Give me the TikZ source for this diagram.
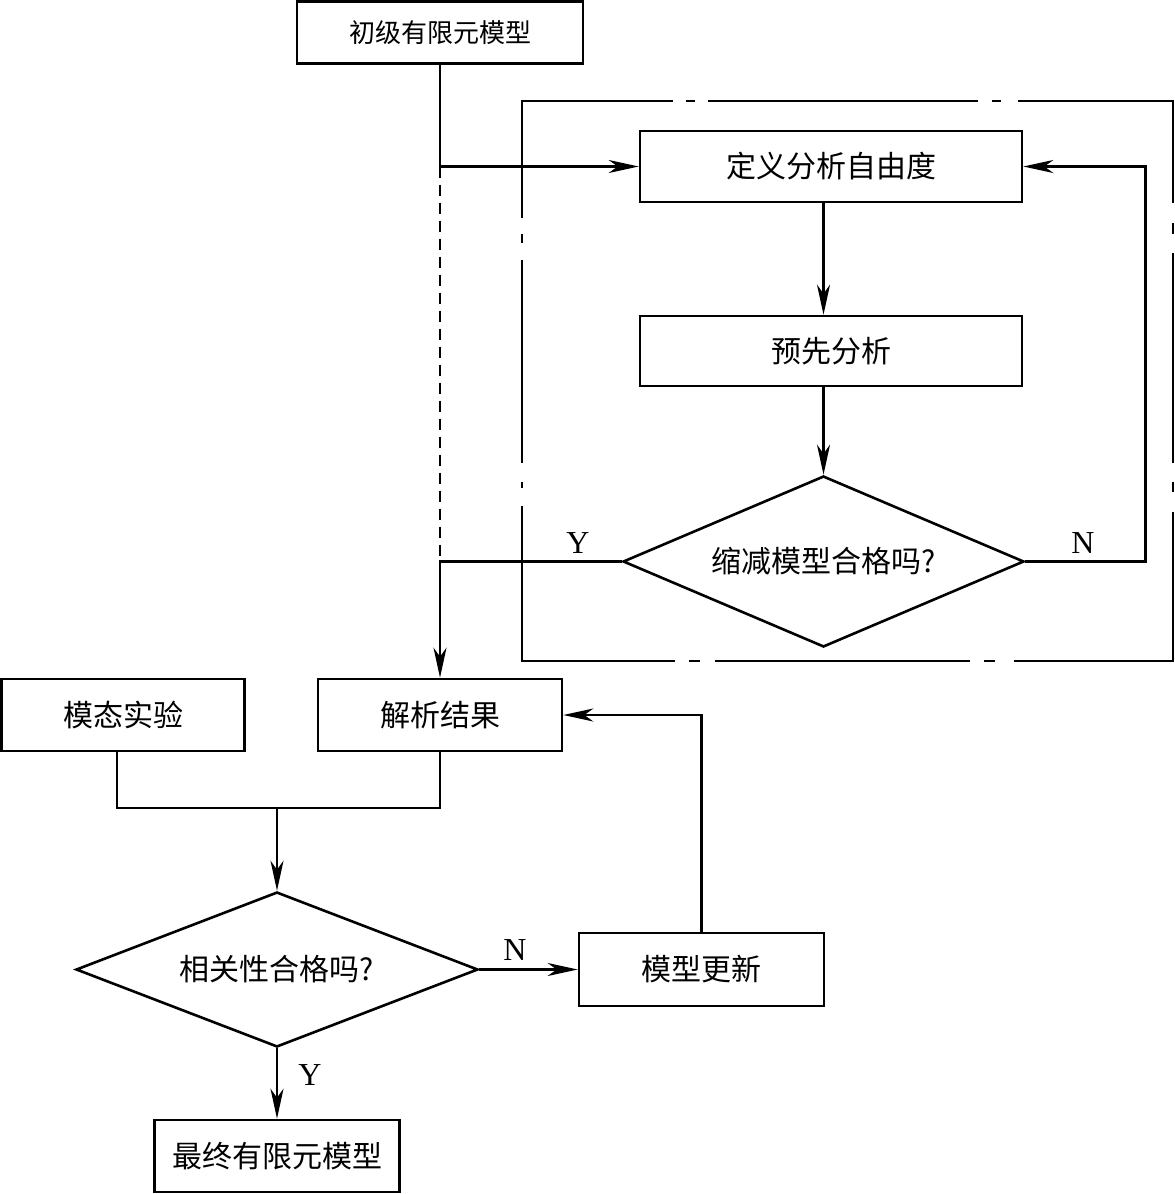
\documentclass[tikz,border=0pt]{standalone}
\usepackage{fontspec}
\setmainfont{Liberation Serif}
\newfontfamily\cjk{Noto Sans CJK SC}
\usetikzlibrary{shapes.geometric,arrows.meta}
\begin{document}
\begin{tikzpicture}[x=1pt,y=-1pt,
  every path/.style={line width=2.6pt},
  boxnode/.style={draw,line width=2.6pt,rectangle,inner sep=0pt,font=\cjk\fontsize{30pt}{36pt}\selectfont},
  dianode/.style={draw,line width=2.6pt,diamond,inner sep=0pt,font=\cjk\fontsize{30pt}{36pt}\selectfont},
  arr/.style={-{Stealth[length=30pt,width=13pt,inset=9pt]}},
  frameline/.style={line width=2.6pt,line cap=butt},
  dashline/.style={line width=2.6pt,dash pattern=on 11pt off 7pt},
  yn/.style={font=\fontsize{32pt}{36pt}\selectfont,inner sep=0pt}]
\useasboundingbox (0,0) rectangle (1175,1194);
% nodes
\node[boxnode,minimum width=286pt,minimum height=62pt,font=\cjk\fontsize{26pt}{30pt}\selectfont] (init) at (440,32.5) {初级有限元模型};
\node[boxnode,minimum width=382pt,minimum height=71pt] (def) at (831,166.5) {定义分析自由度};
\node[boxnode,minimum width=382pt,minimum height=70pt] (pre) at (831,351) {预先分析};
\node[dianode,minimum width=401pt,minimum height=171pt,aspect=2.345] (d1) at (823.5,561.5) {缩减模型合格吗?};
\node[boxnode,minimum width=244pt,minimum height=72pt] (jiexi) at (440,715) {解析结果};
\node[boxnode,minimum width=243pt,minimum height=72pt] (motai) at (123,715) {模态实验};
\node[dianode,minimum width=402pt,minimum height=155pt,aspect=2.59] (d2) at (277,969.5) {相关性合格吗?};
\node[boxnode,minimum width=245pt,minimum height=73pt] (update) at (701.5,969.5) {模型更新};
\node[boxnode,minimum width=245pt,minimum height=72pt] (final) at (277,1156) {最终有限元模型};
% dash-dot frame
\draw[frameline] (522,218) |- (673,101);
\draw[frameline] (686,101) -- (695,101);
\draw[frameline] (708,101) -- (978,101);
\draw[frameline] (992,101) -- (1001,101);
\draw[frameline] (1018,101) -| (1173,203);
\draw[frameline] (1173,223) -- (1173,234);
\draw[frameline] (1173,253) -- (1173,463);
\draw[frameline] (1173,482) -- (1173,492);
\draw[frameline] (1173,512) |- (1014,661);
\draw[frameline] (995,661) -- (984,661);
\draw[frameline] (970,661) -- (715,661);
\draw[frameline] (700,661) -- (689,661);
\draw[frameline] (675,661) -| (522,506);
\draw[frameline] (522,488) -- (522,482);
\draw[frameline] (522,463) -- (522,260);
\draw[frameline] (522,243) -- (522,234);
% connectors
\draw[arr] (init.south) |- (def.west);
\draw[dashline] (init.south |- def.west) -- (init.south |- d1.west);
\draw[arr] (def.south -| d1.north) -- (pre.north -| d1.north);
\draw[arr] (pre.south -| d1.north) -- (d1.north);
\draw[arr] (d1.west) -| (jiexi.north);
\draw[arr] (d1.east) -- ++(120,0) |- (def.east);
\node[yn] (ylab1) at (578,543) {Y};
\node[yn] (nlab1) at (1083,543) {N};
\coordinate (mj) at (277,808);
\draw ([xshift=-6pt]motai.south) |- (mj) -| (jiexi.south);
\draw[arr] (mj) -- (d2.north);
\draw[arr] (d2.east) -- (update.west);
\node[yn] (nlab2) at (515,950) {N};
\draw[arr] (update.north) |- (jiexi.east);
\draw[arr] (d2.south) -- (final.north);
\node[yn] (ylab2) at (310,1075) {Y};
\end{tikzpicture}
\end{document}
